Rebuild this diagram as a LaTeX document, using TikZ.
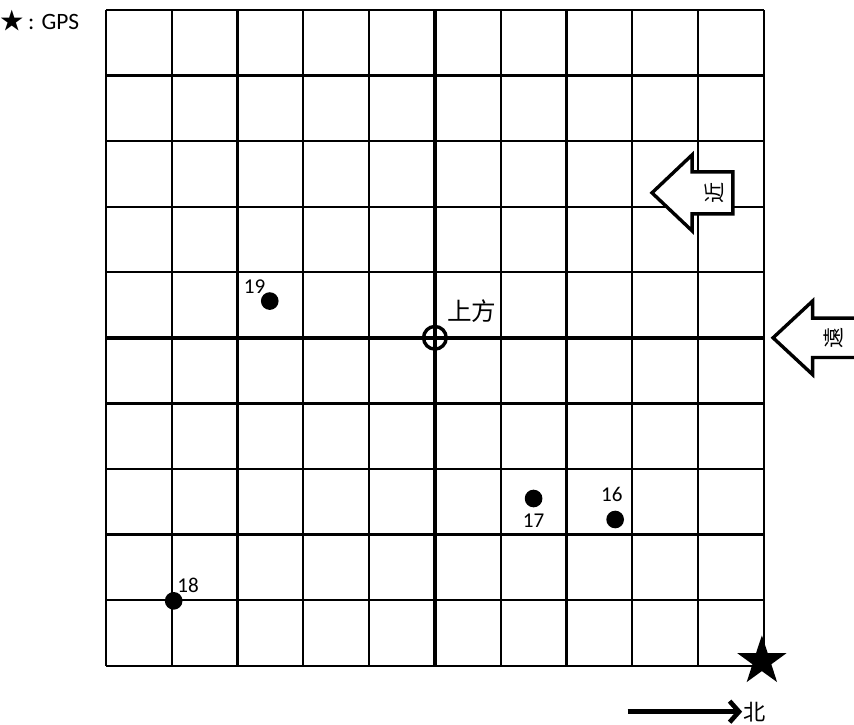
\documentclass[tikz,border=0pt]{standalone}
\usepackage{fontspec}
\setmainfont{Carlito}
\newfontfamily\cjk{Noto Sans CJK SC}
\usepackage{tikz}
\usetikzlibrary{positioning,calc}
\usetikzlibrary{arrows.meta,shapes.geometric}
\tikzset{
  thin grid/.style={draw=black,line width=1.9pt},
  axis/.style={draw=black,line width=2.9pt},
  pt/.style={circle,fill=black,inner sep=0pt,minimum size=0.53cm},
  num/.style={font=\fontsize{18}{20}\selectfont,inner sep=1pt},
  bigarrow/.style={draw=black,fill=white,line width=2.9pt,line join=miter},
}
\tikzset{gps/.style={star,star points=5,star point ratio=2.6,fill=black,inner sep=0pt}}

\begin{document}
\begin{tikzpicture}[x=1.974cm,y=1.968cm]
\useasboundingbox (-6.61,-5.90) rectangle (6.37,5.15);
% grid
\foreach \i in {-5,...,5}{
  \draw[thin grid] (\i,-5) -- (\i,5);
  \draw[thin grid] (-5,\i) -- (5,\i);
}
\coordinate (west) at (-5,0);
\coordinate (east) at (5,0);
\coordinate (north) at (0,5);
\coordinate (south) at (0,-5);
\draw[axis] (west)--(east);
\draw[axis] (north)--(south);
% centre
\node[circle,draw=black,line width=2.9pt,minimum size=0.68cm,inner sep=0pt] (above) at (0,0) {};
\node[font=\cjk\fontsize{21}{23}\selectfont,inner sep=1pt] (abovelab) at (0.56,0.40) {上方};
% points
\node[pt] (p19) at (-2.51,0.56) {};
\node[num] (l19) at (-2.74,0.78) {19};
\node[pt] (p17) at (1.50,-2.45) {};
\node[num] (l17) at (1.50,-2.79) {17};
\node[pt] (p16) at (2.74,-2.77) {};
\node[num] (l16) at (2.69,-2.39) {16};
\node[pt] (p18) at (-3.97,-4.01) {};
\node[num] (l18) at (-3.75,-3.77) {18};
% GPS
\node[gps,minimum size=1.55cm] (gpsstar) at (4.97,-4.93) {};
\node[font=\fontsize{20}{22}\selectfont,anchor=west,inner sep=0pt] (legend) at (-6.60,4.84) {{\cjk ★}\,: GPS};
% near arrow
\draw[bigarrow] (3.30,2.21) -- (3.91,2.79) -- (3.91,2.53) -- (4.53,2.53)
  -- (4.53,1.89) -- (3.91,1.89) -- (3.91,1.63) -- cycle;
\node[font=\cjk\fontsize{18}{20}\selectfont,rotate=90,inner sep=0pt] (near) at (4.24,2.21) {近};
% far arrow
\draw[bigarrow] (6.45,0.30) -- (5.74,0.30) -- (5.74,0.56) -- (5.14,0)
  -- (5.74,-0.56) -- (5.74,-0.30) -- (6.45,-0.30);
\node[font=\cjk\fontsize{18}{20}\selectfont,rotate=90,inner sep=0pt] (far) at (6.06,0) {遠};
% north
\coordinate (nstart) at (2.93,-5.70);
\node[font=\cjk\fontsize{19}{21}\selectfont,inner sep=1pt] (nlab) at (4.86,-5.70) {北};
\draw[line width=4pt,-{Straight Barb[length=8pt,width=18pt]}] (nstart) -- (nlab.west);
\end{tikzpicture}
\end{document}
